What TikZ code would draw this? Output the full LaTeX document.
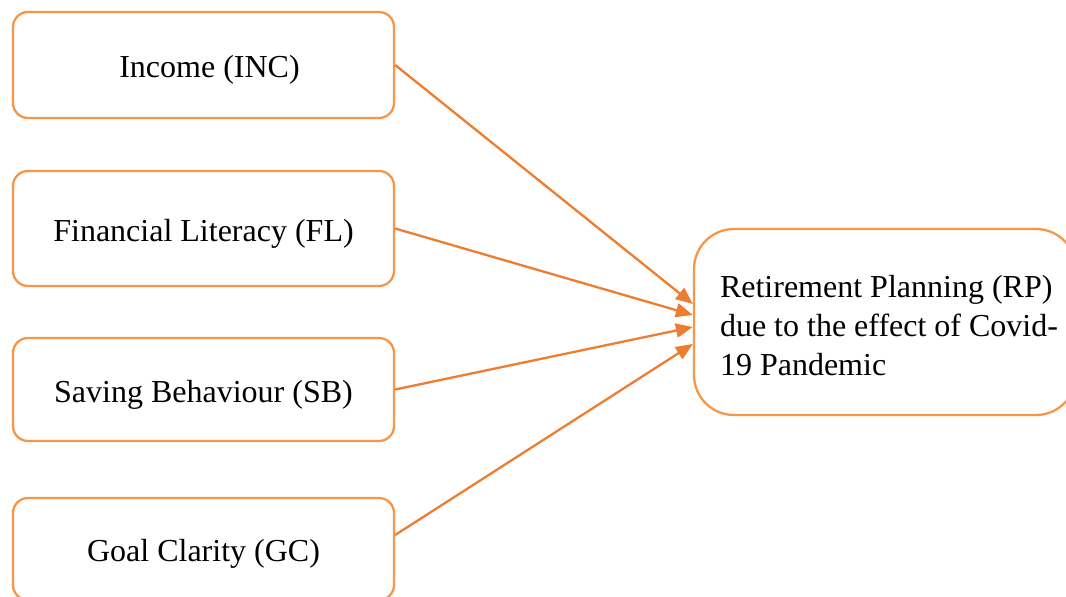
\documentclass[tikz,border=0pt]{standalone}
\usepackage{fontspec}
\setmainfont{Liberation Serif}
\usetikzlibrary{arrows.meta}
\definecolor{boxorange}{RGB}{245,150,72}
\definecolor{arrorange}{RGB}{237,125,49}
\begin{document}
\begin{tikzpicture}[x=1pt,y=-1pt,
  src/.style={draw=boxorange,line width=2.3pt,rounded corners=15pt,
    minimum width=381pt,inner sep=0pt,text height=31pt,text depth=6pt,
    font=\fontsize{32}{39}\selectfont},
  tgt/.style={draw=boxorange,line width=2.3pt,rounded corners=40pt,
    minimum width=382pt,minimum height=186pt,inner sep=0pt},
  tgttext/.style={inner sep=0pt,align=left,font=\fontsize{32}{39}\selectfont},
  link/.style={draw=arrorange,line width=2.3pt,
    -{Triangle[length=17pt,width=14pt]}}]
\useasboundingbox (0,0) rectangle (1066,597);
\clip (0,0) rectangle (1066,597);
\node[src,minimum height=106pt] (inc) at (203.5,65) {\hspace*{12pt}Income (INC)};
\node[src,minimum height=115pt] (fl) at (203.5,228.5) {Financial Literacy (FL)};
\node[src,minimum height=103pt] (sb) at (203.5,389.5) {Saving Behaviour (SB)};
\node[src,minimum height=102pt] (gc) at (203.5,549) {Goal Clarity (GC)};
\node[tgt] (rp) at (885,322) {};
\node[tgttext] (rptext) at ([xshift=4pt,yshift=-4pt]rp.center) {Retirement Planning (RP)\\due to the effect of Covid-\\19 Pandemic};
\draw[link] (inc.east) -- ([yshift=18pt]rp.west);
\draw[link] (fl.east) -- ([yshift=7pt]rp.west);
\draw[link] (sb.east) -- ([yshift=-5pt]rp.west);
\draw[link] ([yshift=14pt]gc.east) -- ([yshift=-22pt]rp.west);
\end{tikzpicture}
\end{document}
